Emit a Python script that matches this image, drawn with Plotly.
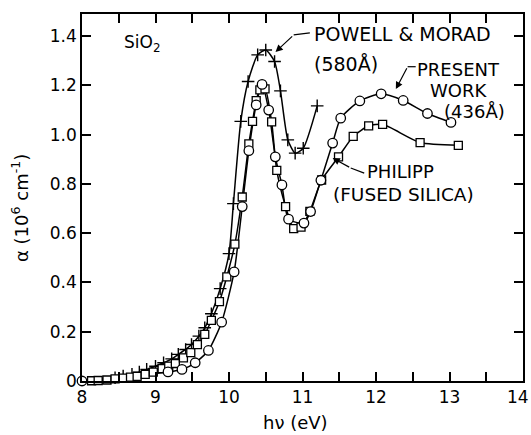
import plotly.graph_objects as go

# Powell & Morad (580 Å) - crosses
pm_e = [8.45, 8.56, 8.68, 8.78, 8.88, 9.00, 9.11, 9.22, 9.31, 9.41, 9.49, 9.59, 9.67, 9.76,
        9.88, 10.00, 10.06, 10.16, 10.26, 10.39, 10.50, 10.62, 10.70, 10.80, 10.90, 11.01, 11.20]
pm_a = [0.013, 0.020, 0.027, 0.036, 0.047, 0.060, 0.074, 0.090, 0.108, 0.128, 0.148, 0.182, 0.216, 0.273,
        0.375, 0.517, 0.720, 1.054, 1.216, 1.324, 1.344, 1.297, 1.178, 0.979, 0.925, 0.945, 1.117]

# Present work (436 Å) - circles
pw_e = [8.00, 9.17, 9.36, 9.54, 9.72, 9.90, 10.07, 10.18, 10.27, 10.37, 10.45, 10.54, 10.63, 10.72,
        10.81, 11.02, 11.11, 11.25, 11.41, 11.52, 11.78, 12.07, 12.37, 12.70, 13.02]
pw_a = [0.000, 0.037, 0.047, 0.074, 0.124, 0.239, 0.443, 0.708, 0.935, 1.121, 1.204, 1.100, 0.910, 0.796,
        0.657, 0.641, 0.688, 0.815, 0.966, 1.067, 1.137, 1.166, 1.139, 1.086, 1.050]

# Philipp (fused silica) - squares
ph_e = [8.13, 8.22, 8.34, 8.45, 8.56, 8.66, 8.75, 8.86, 8.97, 9.09, 9.18, 9.27, 9.38, 9.48, 9.57,
        9.67, 9.76, 9.87, 9.97, 10.08, 10.18, 10.27, 10.32, 10.37, 10.42, 10.49, 10.58, 10.65, 10.77,
        10.88, 10.98, 11.10, 11.26, 11.49, 11.69, 11.90, 12.09, 12.60, 13.12]
ph_a = [0.001, 0.002, 0.004, 0.009, 0.012, 0.016, 0.019, 0.027, 0.036, 0.050, 0.060, 0.071, 0.094, 0.115, 0.148,
        0.189, 0.246, 0.322, 0.423, 0.556, 0.747, 0.963, 1.054, 1.138, 1.182, 1.186, 1.052, 0.855, 0.708,
        0.619, 0.625, 0.689, 0.816, 0.910, 0.993, 1.036, 1.042, 0.968, 0.957]

x_tickvals = [8, 9, 10, 11, 12, 13]
x_ticktext = ["8", "9", "10", "11", "12", "13"]
x_last_tick = 14
x_last_label = "14"
x_minorvals = [8.5, 9.5, 10.5, 11.5, 12.5, 13.5]
y_tickvals = [0, 0.2, 0.4, 0.6, 0.8, 1.0, 1.2, 1.4]
y_ticktext = ["0", "0.2", "0.4", "0.6", "0.8", "1.0", "1.2", "1.4"]

FONT = "DejaVu Sans"
fig = go.Figure()

for e, a in [(pm_e, pm_a), (pw_e, pw_a), (ph_e, ph_a)]:
    fig.add_trace(go.Scatter(x=e, y=a, mode="lines",
                             line=dict(color="black", width=1.5, shape="spline", smoothing=0.6),
                             hoverinfo="skip", showlegend=False))

fig.add_trace(go.Scatter(x=pm_e, y=pm_a, mode="markers", cliponaxis=False, showlegend=False,
                         marker=dict(symbol="cross-thin", size=9, color="black",
                                     line=dict(color="black", width=1.4))))
fig.add_trace(go.Scatter(x=ph_e, y=ph_a, mode="markers", cliponaxis=False, showlegend=False,
                         marker=dict(symbol="square", size=8, color="white",
                                     line=dict(color="black", width=1.3))))
fig.add_trace(go.Scatter(x=pw_e, y=pw_a, mode="markers", cliponaxis=False, showlegend=False,
                         marker=dict(symbol="circle", size=9.5, color="white",
                                     line=dict(color="black", width=1.3))))

axis_common = dict(showline=True, linewidth=1.5, linecolor="black", mirror="ticks",
                   ticks="inside", ticklen=9, tickwidth=1.5, tickcolor="black",
                   showgrid=False, zeroline=False, automargin=False,
                   tickfont=dict(family=FONT, size=17, color="black"))

fig.update_layout(
    width=531, height=435,
    margin=dict(l=82, r=8, t=14, b=54, autoexpand=False),
    paper_bgcolor="white", plot_bgcolor="white",
    xaxis=dict(range=[8, 14], tickvals=x_tickvals, ticktext=x_ticktext,
               minor=dict(tickvals=x_minorvals, ticks="inside", ticklen=9, tickwidth=1.5,
                          tickcolor="black", showgrid=False),
               **axis_common),
    yaxis=dict(range=[0, 1.49], tickvals=y_tickvals, ticktext=y_ticktext, **axis_common),
)

txt = dict(family=FONT, size=18, color="black")
ann = []
def label(x, y, s, xanchor="left", size=18):
    ann.append(dict(x=x, y=y, xref="x", yref="y", text=s, showarrow=False,
                    xanchor=xanchor, yanchor="middle", font=dict(family=FONT, size=size, color="black")))

label(8.546, 1.372, "SiO<sub>2</sub>", size=17)
label(11.133, 1.409, "POWELL &amp; MORAD", size=19)
label(11.133, 1.287, "(580Å)", size=19)
label(13.12, 1.263, "PRESENT", xanchor="center")
label(13.12, 1.178, "WORK", xanchor="center")
label(13.34, 1.093, "(436Å)", xanchor="center")
label(12.34, 0.85, "PHILIPP", xanchor="center")
label(12.37, 0.756, "(FUSED SILICA)", xanchor="center", size=18.5)

# last x tick label kept inside the page
ann.append(dict(x=x_last_tick, y=(381 - 397) / 367, xref="x", yref="paper", text=x_last_label,
                showarrow=False, xanchor="right", yanchor="middle", xshift=8,
                font=dict(family=FONT, size=17, color="black")))

# arrows: (head, knee, tail)
arrows = [((10.633, 1.336), (10.88, 1.405), (11.10, 1.413)),
          ((12.27, 1.185), (12.43, 1.276), (12.54, 1.276)),
          ((11.41, 0.905), (11.656, 0.865), (11.84, 0.844))]
for head, knee, tail in arrows:
    ann.append(dict(x=head[0], y=head[1], ax=knee[0], ay=knee[1], xref="x", yref="y",
                    axref="x", ayref="y", text="", showarrow=True, arrowhead=2,
                    arrowsize=1.2, arrowwidth=1.2, arrowcolor="black"))
    fig.add_shape(type="line", x0=knee[0], y0=knee[1], x1=tail[0], y1=tail[1],
                  xref="x", yref="y", line=dict(color="black", width=1.2))

ann.append(dict(x=(295 - 82) / 441, y=(381 - 422) / 367, xref="paper", yref="paper",
                text="hν (eV)", showarrow=False, xanchor="center", yanchor="middle", font=txt))
ann.append(dict(x=(20 - 82) / 441, y=(381 - 208) / 367, xref="paper", yref="paper",
                text="α (10<sup>6</sup> cm<sup>-1</sup>)", showarrow=False, textangle=-90,
                xanchor="center", yanchor="middle", font=txt))
fig.update_layout(annotations=ann)

fig.write_html("out.html")
